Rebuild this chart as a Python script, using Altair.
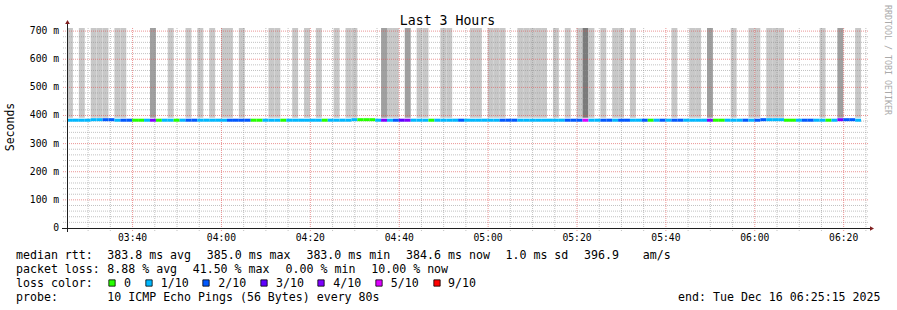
import altair as alt
import pandas as pd

FONT = "DejaVu Sans Mono"

# ---------------- data ----------------
START_MIN = 3 * 60 + 25 + 15 / 60   # 03:25:15  (minutes after midnight)
SPAN_MIN = 180                       # last 3 hours
STEP_SEC = 80                        # one sample every 80 s

# packet loss per step, in pings out of 10 (selects the colour of the median line)
loss = [
    1, 1, 1, 1, 1, 1, 2, 2, 1, 2,
    2, 0, 0, 1, 4, 0, 1, 1, 0, 1,
    2, 2, 1, 1, 1, 1, 1, 2, 2, 2,
    2, 0, 0, 1, 1, 1, 0, 1, 1, 1,
    1, 1, 1, 0, 1, 1, 1, 1, 1, 0,
    0, 0, 1, 4, 1, 2, 3, 4, 1, 1,
    1, 0, 1, 1, 1, 1, 2, 1, 1, 1,
    1, 1, 1, 2, 2, 2, 1, 1, 1, 1,
    1, 1, 1, 1, 2, 2, 2, 5, 1, 1,
    2, 2, 1, 2, 2, 1, 1, 2, 0, 1,
    2, 1, 2, 2, 1, 1, 1, 1, 4, 0,
    0, 1, 1, 1, 2, 1, 2, 2, 1, 1,
    1, 0, 0, 1, 2, 2, 1, 1, 0, 1,
    4, 2, 2, 1,
]

# median rtt per step (ms)
median_ms = [
    383.2, 383.2, 383.2, 383.2, 385.0, 385.0, 385.0, 385.0, 383.2, 383.2,
    383.2, 383.2, 383.2, 383.2, 383.2, 383.2, 383.2, 383.2, 383.2, 383.2,
    383.2, 383.2, 383.2, 383.2, 383.2, 383.2, 383.2, 383.2, 383.2, 383.2,
    383.2, 383.2, 383.2, 383.2, 383.2, 383.2, 383.2, 383.2, 383.2, 383.2,
    383.2, 383.2, 383.2, 383.2, 383.2, 383.2, 383.2, 383.2, 385.0, 385.0,
    385.0, 385.0, 383.2, 383.2, 383.2, 383.2, 383.2, 383.2, 383.2, 383.2,
    383.2, 383.2, 383.2, 383.2, 383.2, 383.2, 383.2, 383.2, 383.2, 383.2,
    383.2, 383.2, 383.2, 383.2, 383.2, 383.2, 383.2, 383.2, 383.2, 383.2,
    383.2, 383.2, 383.2, 383.2, 383.2, 383.2, 383.2, 383.2, 383.2, 383.2,
    383.2, 383.2, 383.2, 383.2, 383.2, 383.2, 383.2, 383.2, 383.2, 383.2,
    383.2, 383.2, 383.2, 383.2, 383.2, 383.2, 383.2, 383.2, 383.2, 383.2,
    383.2, 383.2, 383.2, 383.2, 383.2, 383.2, 383.2, 385.0, 385.0, 385.0,
    385.0, 383.2, 383.2, 383.2, 383.2, 383.2, 383.2, 383.2, 383.2, 383.2,
    385.0, 385.0, 385.0, 383.2,
]

# smoke per step: 0 none, 1 light, 2 medium, 3 dark
smoke = [
    1, 0, 1, 0, 1, 1, 1, 0, 1, 1,
    0, 0, 0, 0, 2, 0, 0, 1, 0, 0,
    1, 0, 1, 0, 1, 0, 1, 1, 0, 1,
    0, 0, 0, 0, 1, 1, 0, 0, 1, 0,
    1, 0, 1, 0, 0, 1, 0, 1, 1, 0,
    0, 0, 0, 2, 1, 1, 0, 2, 0, 1,
    1, 0, 0, 1, 1, 0, 0, 0, 1, 1,
    0, 1, 1, 1, 0, 0, 1, 1, 1, 1,
    1, 0, 1, 0, 1, 0, 1, 3, 1, 0,
    1, 0, 1, 1, 0, 1, 0, 0, 0, 0,
    0, 0, 1, 0, 0, 1, 1, 0, 2, 0,
    0, 0, 1, 0, 0, 1, 1, 0, 1, 1,
    1, 0, 0, 0, 0, 0, 0, 1, 0, 0,
    2, 0, 0, 1,
]
SMOKE_LOW = 392.0
SMOKE_HIGH = 711.0

Y_MAX = 711.0
y_major = [0, 100, 200, 300, 400, 500, 600, 700]
y_labels = ["0\u00a0\u00a0", "100\u00a0m", "200\u00a0m", "300\u00a0m", "400\u00a0m",
            "500\u00a0m", "600\u00a0m", "700\u00a0m"]
y_minor = [20, 40, 60, 80, 120, 140, 160, 180, 220, 240, 260, 280, 320, 340, 360, 380,
           420, 440, 460, 480, 520, 540, 560, 580, 620, 640, 660, 680]
x_major = [220, 240, 260, 280, 300, 320, 340, 360, 380]          # minutes after midnight
x_labels = ["03:40", "04:00", "04:20", "04:40", "05:00", "05:20", "05:40", "06:00", "06:20"]
x_minor = [210, 215, 225, 230, 235, 245, 250, 255, 265, 270, 275, 285, 290, 295,
           305, 310, 315, 325, 330, 335, 345, 350, 355, 365, 370, 375, 385]

loss_levels = [0, 1, 2, 3, 4, 5, 9]
loss_labels = ["0", "1/10", "2/10", "3/10", "4/10", "5/10", "9/10"]
loss_colors = ["#26ff00", "#00b8ff", "#0059ff", "#5e00ff", "#7e00ff", "#dd00ff", "#ff0000"]
smoke_colors = ["#c8c8c8", "#a0a0a0", "#7b7b7b"]

title_text = "Last 3 Hours"
y_title = "Seconds"
watermark = "RRDTOOL / TOBI OETIKER"
line1 = ["median rtt:", "383.8 ms avg", "385.0 ms max", "383.0 ms min", "384.6 ms now",
         "1.0 ms sd", "396.9", "am/s"]
line2 = ["packet loss:", "8.88 % avg", "41.50 % max", "0.00 % min", "10.00 % now"]
line3_head = "loss color:"
line4 = ["probe:", "10 ICMP Echo Pings (56 Bytes) every 80s"]
end_text = "end: Tue Dec 16 06:25:15 2025"

# ---------------- build tables ----------------
n = len(loss)
steps = pd.DataFrame({"i": list(range(n)), "loss": loss, "median": median_ms, "smoke": smoke})
steps["t0"] = START_MIN + steps["i"] * STEP_SEC / 60
steps["t1"] = steps["t0"] + STEP_SEC / 60
steps["lo"] = SMOKE_LOW
steps["hi"] = SMOKE_HIGH
smoke_df = steps[steps["smoke"] > 0].reset_index(drop=True)

# ---------------- layout ----------------
OX, OY = 67, 28          # plot origin in the page
W, H = 800, 200

xs = alt.Scale(domain=[START_MIN, START_MIN + SPAN_MIN], zero=False, nice=False)
ys = alt.Scale(domain=[0, Y_MAX], zero=False, nice=False)

smoke_layer = alt.Chart(smoke_df).mark_rect(stroke=None).encode(
    x=alt.X("t0:Q", scale=xs, axis=None),
    x2="t1:Q",
    y=alt.Y("lo:Q", scale=ys, axis=None),
    y2="hi:Q",
    fill=alt.Fill("smoke:O", scale=alt.Scale(domain=[1, 2, 3], range=smoke_colors), legend=None),
)

def hgrid(values, color, opacity):
    return alt.Chart(pd.DataFrame({"v": values})).mark_rule(
        color=color, opacity=opacity, strokeDash=[1, 1], strokeWidth=1
    ).encode(y=alt.Y("v:Q", scale=ys, axis=None), x=alt.value(-4), x2=alt.value(W + 1))

def vgrid(values, color, opacity):
    return alt.Chart(pd.DataFrame({"v": values})).mark_rule(
        color=color, opacity=opacity, strokeDash=[1, 1], strokeWidth=1
    ).encode(x=alt.X("v:Q", scale=xs, axis=None), y=alt.value(0), y2=alt.value(H + 4))

grid_layers = [
    hgrid(y_minor, "#8f8f8f", 0.55),
    vgrid(x_minor, "#8f8f8f", 0.55),
    hgrid(y_major[1:], "#de4f4f", 0.6),
    vgrid(x_major, "#de4f4f", 0.6),
]

median_layer = alt.Chart(steps).mark_rule(strokeWidth=3, strokeCap="butt").encode(
    x=alt.X("t0:Q", scale=xs, axis=None),
    x2="t1:Q",
    y=alt.Y("median:Q", scale=ys, axis=None),
    stroke=alt.Stroke("loss:O", scale=alt.Scale(domain=loss_levels, range=loss_colors), legend=None),
)

# axis labels drawn from the tick arrays through the shared scales
x_lab_layer = alt.Chart(pd.DataFrame({"v": x_major, "lab": x_labels})).mark_text(
    font=FONT, fontSize=9.7, color="#000000", align="center", baseline="top"
).encode(x=alt.X("v:Q", scale=xs, axis=None), y=alt.value(H + 5), text="lab:N")

y_lab_layer = alt.Chart(pd.DataFrame({"v": y_major, "lab": y_labels})).mark_text(
    font=FONT, fontSize=9.7, color="#000000", align="right", baseline="middle"
).encode(y=alt.Y("v:Q", scale=ys, axis=None), x=alt.value(-8), text="lab:N")

one = pd.DataFrame({"a": [0]})
axis_lines = [
    alt.Chart(one).mark_rule(color="#1f1f1f", strokeWidth=1).encode(
        x=alt.value(-5), x2=alt.value(W + 4), y=alt.value(H + 0.5)),
    alt.Chart(one).mark_rule(color="#1f1f1f", strokeWidth=1).encode(
        x=alt.value(0.5), y=alt.value(-5), y2=alt.value(H + 4)),
    alt.Chart(one).mark_point(shape="triangle-right", filled=True, color="#801f1f", size=22, opacity=1).encode(
        x=alt.value(W + 5), y=alt.value(H + 0.5)),
    alt.Chart(one).mark_point(shape="triangle-up", filled=True, color="#801f1f", size=22, opacity=1).encode(
        x=alt.value(0.5), y=alt.value(-6)),
]

def txt(s, px, py, size=11.6, align="left", baseline="alphabetic", angle=0, color="#000000"):
    return alt.Chart(one).mark_text(
        text=s, align=align, baseline=baseline, font=FONT, fontSize=size, angle=angle, color=color
    ).encode(x=alt.value(px - OX), y=alt.value(py - OY))

texts = [
    txt(title_text, 447.5, 25, size=13.2, align="center"),
    txt(y_title, 11, 127, size=11.5, align="center", baseline="middle", angle=270),
    txt(watermark, 887, 60, size=8.3, align="center", baseline="middle", angle=90, color="#aaaaaa"),
]

l1x = [16, 107.3, 206.8, 306.4, 406.1, 505.5, 584, 642.7]
for s, px in zip(line1, l1x):
    texts.append(txt(s, px, 259))
l2x = [16, 107.3, 192.7, 285.6, 371.3]
for s, px in zip(line2, l2x):
    texts.append(txt(s, px, 273))
texts.append(txt(line3_head, 16, 287))
box_x = [112, 149, 206, 264, 321, 379, 437]
lab_x = [124, 160.7, 218.3, 276, 333.3, 390.7, 448]
for lab, col, bx, lx in zip(loss_labels, loss_colors, box_x, lab_x):
    texts.append(alt.Chart(one).mark_square(size=40, fill=col, stroke="#000000", strokeWidth=0.8,
                                            opacity=1, filled=True).encode(
        x=alt.value(bx - OX), y=alt.value(283 - OY)))
    texts.append(txt(lab, lx, 287))
l4x = [16, 107.3]
for s, px in zip(line4, l4x):
    texts.append(txt(s, px, 301))
texts.append(txt(end_text, 880.5, 301, align="right"))

chart = alt.layer(smoke_layer, *grid_layers, median_layer, x_lab_layer, y_lab_layer,
                  *axis_lines, *texts).properties(
    width=W, height=H,
    padding={"left": OX, "top": OY, "right": 897 - OX - W, "bottom": 310 - OY - H},
    autosize="none",
    background="#ffffff",
).configure_view(stroke=None)

chart.save("out.html", embed_options={"renderer": "svg", "actions": False})
